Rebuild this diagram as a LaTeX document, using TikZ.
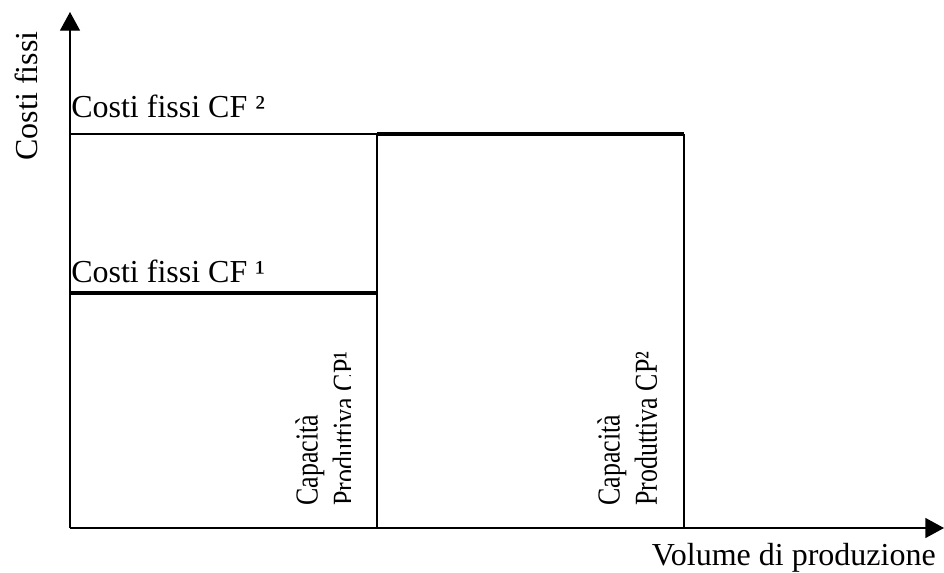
\documentclass[tikz,border=0pt]{standalone}
\usepackage{fontspec}
\setmainfont{Liberation Serif}
\newfontfamily\narrowfont[FakeStretch=0.81]{Liberation Serif}
\usetikzlibrary{arrows.meta}
\tikzset{
  lab/.style={inner sep=0pt, font=\fontsize{24}{29}\selectfont},
  caplab/.style={inner sep=0pt, rotate=90, anchor=north west, align=left,
    font=\narrowfont\fontsize{24}{28}\selectfont},
  axis/.style={line width=1pt, -{Triangle[length=14pt,width=15pt]}},
  thinline/.style={line width=1pt},
  thickline/.style={line width=2.6pt}
}
\begin{document}
\begin{tikzpicture}[x=0.75pt,y=-0.75pt]
\useasboundingbox (0,0) rectangle (944,572);
\coordinate (o) at (70,528);
\coordinate (ytip) at (70,12);
\coordinate (xtip) at (944,528);
\draw[axis] (o)--(ytip);
\draw[axis] (o)--(xtip);
\draw[thinline] (70,134)--(377,134);
\draw[thickline] (377,134)--(684,134);
\draw[thickline] (70,293)--(377,293);
\draw[thinline] (377,134)--(377,528);
\draw[thinline] (684,134)--(684,528);
\node[lab, rotate=90] (ylab) at (26,96){Costi fissi};
\node[lab, anchor=base west] (cf2) at (71,117){Costi fissi CF ²};
\node[lab, anchor=base west] (cf1) at (71,282){Costi fissi CF ¹};
\node[lab, anchor=base east] (xlab) at (936,565){Volume di produzione};
\begin{scope}
\clip (280,320) rectangle (350,520);
\node[caplab] (cp1) at (295,506){Capacità\\Produttiva CP¹};
\end{scope}
\node[caplab] (cp2) at (597,506){Capacità\\Produttiva CP²};
\end{tikzpicture}
\end{document}
